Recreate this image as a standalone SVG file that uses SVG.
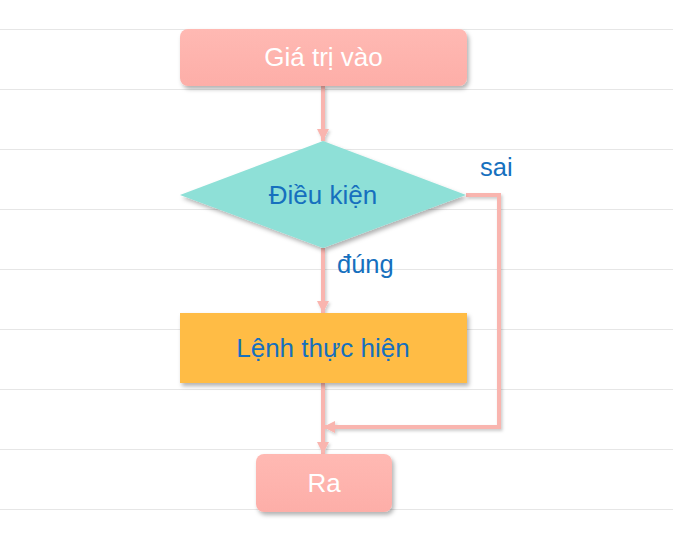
<svg xmlns="http://www.w3.org/2000/svg" width="673" height="533" viewBox="0 0 673 533">
<defs>
<style>
.grid{stroke:#e6e6e6;stroke-width:1}
.t{font-family:"Liberation Sans",Arial,sans-serif;font-size:26px;text-anchor:middle}
.w{fill:#ffffff}
.b{fill:#1670be}
.lbl{font-family:"Liberation Sans",Arial,sans-serif;font-size:25.5px;fill:#1670be}
.c{fill:none;stroke:#f9b5af;stroke-width:4}
</style>
<linearGradient id="pk" x1="0" y1="0" x2="0" y2="1">
<stop offset="0" stop-color="#ffb9b3"/>
<stop offset="1" stop-color="#fdaea8"/>
</linearGradient>
<filter id="sh" x="-10%" y="-20%" width="125%" height="150%">
<feDropShadow dx="2" dy="3" stdDeviation="2" flood-color="#000" flood-opacity="0.3"/>
</filter>
<filter id="shl" x="-20%" y="-20%" width="140%" height="140%">
<feDropShadow dx="1.5" dy="2" stdDeviation="1.5" flood-color="#000" flood-opacity="0.2"/>
</filter>
<marker id="ah" markerWidth="12" markerHeight="12" viewBox="0 0 12 12" refX="12" refY="6" orient="auto" markerUnits="userSpaceOnUse">
<path d="M0,0 L12,6 L0,12 Z" fill="#f9b5af"/>
</marker>
</defs>
<rect width="673" height="533" fill="#ffffff"/>
<g id="grid">
<line class="grid" x1="0" y1="29.5" x2="673" y2="29.5"/>
<line class="grid" x1="0" y1="89.5" x2="673" y2="89.5"/>
<line class="grid" x1="0" y1="149.5" x2="673" y2="149.5"/>
<line class="grid" x1="0" y1="209.5" x2="673" y2="209.5"/>
<line class="grid" x1="0" y1="269.5" x2="673" y2="269.5"/>
<line class="grid" x1="0" y1="329.5" x2="673" y2="329.5"/>
<line class="grid" x1="0" y1="389.5" x2="673" y2="389.5"/>
<line class="grid" x1="0" y1="449.5" x2="673" y2="449.5"/>
<line class="grid" x1="0" y1="509.5" x2="673" y2="509.5"/>
</g>
<g id="connectors" filter="url(#shl)">
<path class="c" d="M323,86 L323,141" marker-end="url(#ah)"/>
<path class="c" d="M323,248 L323,313" marker-end="url(#ah)"/>
<path class="c" d="M323,383 L323,454" marker-end="url(#ah)"/>
<path class="c" d="M466,195 L499,195 L499,427 L323,427" marker-end="url(#ah)"/>
</g>
<g id="start">
<rect x="180" y="29" width="287" height="57" rx="8" fill="url(#pk)" filter="url(#sh)"/>
<text class="t w" x="323.5" y="66">Giá trị vào</text>
</g>
<g id="cond">
<polygon points="180,195 323,141 466,195 323,248" fill="#8ee0d7" filter="url(#sh)"/>
<text class="t b" x="323" y="204">Điều kiện</text>
</g>
<g id="action">
<rect x="180" y="313" width="287" height="70" fill="#ffbc45" filter="url(#sh)"/>
<text class="t b" x="323" y="357">Lệnh thực hiện</text>
</g>
<g id="end">
<rect x="256" y="454" width="136" height="58" rx="8" fill="url(#pk)" filter="url(#sh)"/>
<text class="t w" x="324" y="492">Ra</text>
</g>
<g id="labels">
<text class="lbl" x="480" y="176">sai</text>
<text class="lbl" x="337" y="273">đúng</text>
</g>
</svg>
